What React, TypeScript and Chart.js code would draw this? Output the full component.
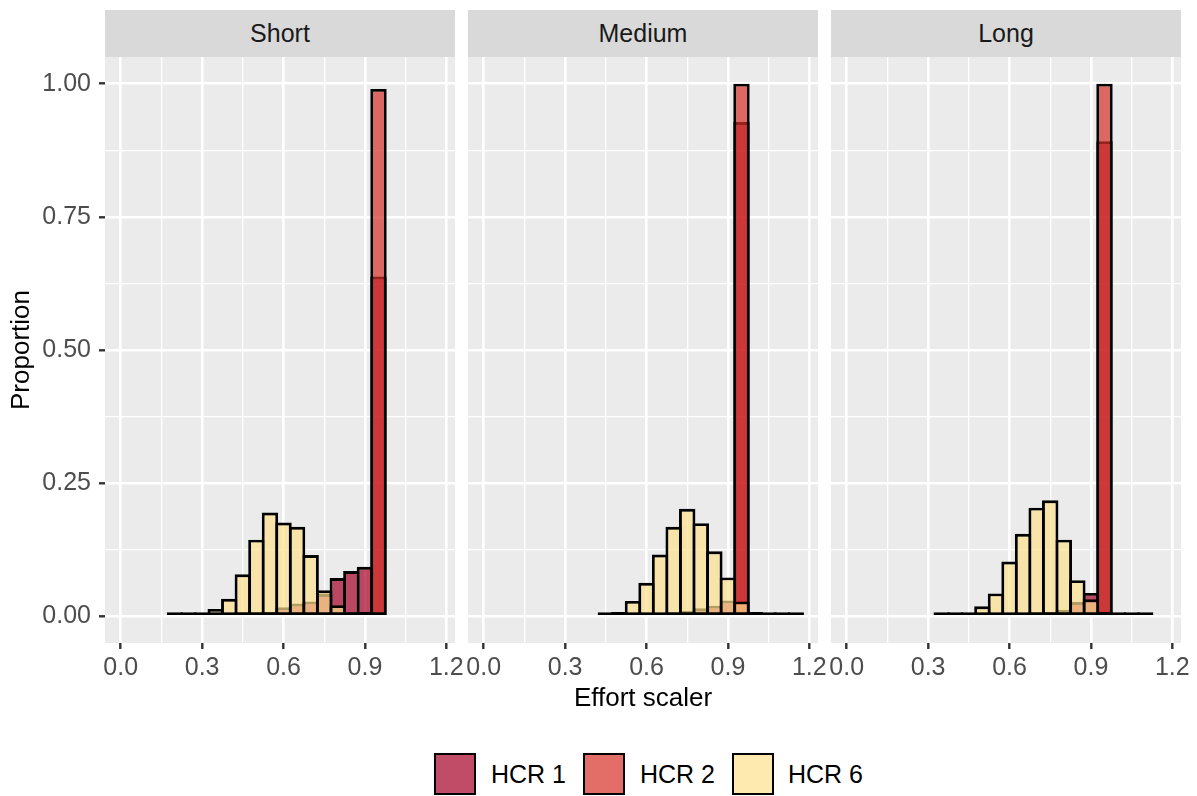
import React, { useEffect, useRef } from 'react';
import { Chart, registerables } from 'chart.js';

Chart.register(...registerables);

// ---------------- data ----------------
const panelNames = ['Short', 'Medium', 'Long'];
const seriesNames = ['HCR 1', 'HCR 2', 'HCR 6'];
const seriesColors = ['rgba(165,0,38,0.7)', 'rgba(215,48,39,0.7)', 'rgba(254,224,139,0.7)'];

// histogram bin centres (bin width 0.05)
const binCenters = [0.2, 0.25, 0.3, 0.35, 0.4, 0.45, 0.5, 0.55, 0.6, 0.65, 0.7, 0.75, 0.8, 0.85, 0.9, 0.95, 1.0, 1.05, 1.1, 1.15];

// Short
const shortHCR1 = [null, null, null, null, null, 0.004, 0.005, 0.008, 0.017, 0.024, 0.028, 0.042, 0.072, 0.085, 0.093, 0.638, null, null, null, null];
const shortHCR2 = [null, null, null, null, null, null, null, null, null, null, null, null, null, null, 0.008, 0.99, null, null, null, null];
const shortHCR6 = [0.002, 0.002, 0.003, 0.014, 0.033, 0.079, 0.144, 0.195, 0.176, 0.168, 0.115, 0.049, 0.021, 0.004, 0.003, null, null, null, null, null];

// Medium
const mediumHCR1 = [null, null, null, null, null, null, null, null, null, null, 0.005, 0.01, 0.015, 0.02, 0.03, 0.928, null, null, null, null];
const mediumHCR2 = [null, null, null, null, null, null, null, null, null, null, null, null, null, null, null, 1.0, null, null, null, null];
const mediumHCR6 = [null, null, null, null, null, 0.003, 0.008, 0.029, 0.063, 0.116, 0.168, 0.202, 0.175, 0.122, 0.073, 0.028, 0.008, 0.003, 0.003, 0.002];

// Long
const longHCR1 = [null, null, null, null, null, null, null, null, null, null, 0.006, 0.008, 0.0125, 0.027, 0.044, 0.892, null, null, null, null];
const longHCR2 = [null, null, null, null, null, null, null, null, null, null, null, null, null, null, null, 1.0, null, null, null, null];
const longHCR6 = [null, null, null, 0.002, 0.002, 0.006, 0.019, 0.043, 0.103, 0.155, 0.204, 0.218, 0.144, 0.068, 0.032, 0.006, 0.003, 0.002, 0.002, null];

const panelSeries = [
  [shortHCR1, shortHCR2, shortHCR6],
  [mediumHCR1, mediumHCR2, mediumHCR6],
  [longHCR1, longHCR2, longHCR6],
];

const xMajorTicks = [0, 0.3, 0.6, 0.9, 1.2];
const xTickLabels = ['0.0', '0.3', '0.6', '0.9', '1.2'];
const yMajorTicks = [0, 0.25, 0.5, 0.75, 1.0];
const yTickLabels = ['0.00', '0.25', '0.50', '0.75', '1.00'];

const xTitle = 'Effort scaler';
const yTitle = 'Proportion';

// ---------------- layout ----------------
const FONT = '"Liberation Sans", Arial, Helvetica, sans-serif';
const PANEL_TOP = 57;
const PANEL_H = 586;
const PANEL_W = 350;
const PANEL_LEFTS = [105, 468, 831];
const Y_AXIS_W = 105;
const X_AXIS_H = 50;
const SIDE_PAD = 14;
const RIGHT_PAD = 22;

function withMinors(majors: number[]): number[] {
  const out: number[] = [];
  for (let i = 0; i < majors.length; i++) {
    out.push(majors[i]);
    if (i < majors.length - 1) out.push((majors[i] + majors[i + 1]) / 2);
  }
  return out;
}

function isMajor(v: number, majors: number[]) {
  return majors.some((m) => Math.abs(m - v) < 1e-9);
}

function Panel({ index }: { index: number }) {
  const ref = useRef<HTMLCanvasElement | null>(null);
  const showY = index === 0;
  const leftPad = showY ? 0 : SIDE_PAD;
  const yW = showY ? Y_AXIS_W : 0;
  const width = leftPad + yW + PANEL_W + RIGHT_PAD;
  const height = PANEL_H + X_AXIS_H;
  const left = PANEL_LEFTS[index] - yW - leftPad;

  useEffect(() => {
    if (!ref.current) return;
    const series = panelSeries[index];
    const orders = [3, 2, 1];
    const datasets = series.map((vals, s) => ({
      label: seriesNames[s],
      data: binCenters
        .map((x, i) => (vals[i] == null ? null : { x, y: vals[i] as number }))
        .filter((d) => d !== null) as { x: number; y: number }[],
      backgroundColor: seriesColors[s],
      borderColor: '#000000',
      borderWidth: 2.9,
      borderSkipped: false as const,
      barPercentage: 1.21,
      categoryPercentage: 1,
      grouped: false,
      order: orders[s],
      inflateAmount: 0,
      minBarLength: 4,
    }));

    const xTicks = withMinors(xMajorTicks);
    const yTicks = withMinors(yMajorTicks);

    const chart = new Chart(ref.current, {
      type: 'bar',
      data: { datasets: datasets as any },
      options: {
        animation: false,
        responsive: false,
        maintainAspectRatio: false,
        devicePixelRatio: 1,
        layout: { padding: { left: leftPad, right: RIGHT_PAD, top: 0, bottom: 0 } },
        plugins: {
          legend: { display: false },
          tooltip: { enabled: false },
        },
        scales: {
          x: {
            type: 'linear',
            min: -0.058,
            max: 1.232,
            offset: false,
            border: { display: false },
            afterBuildTicks: (scale: any) => {
              scale.ticks = xTicks.map((v) => ({ value: v }));
            },
            afterFit: (scale: any) => {
              scale.height = X_AXIS_H;
              scale.paddingLeft = 0;
              scale.paddingRight = 0;
              scale.paddingTop = 0;
              scale.paddingBottom = 0;
            },
            grid: {
              offset: false,
              color: '#FFFFFF',
              lineWidth: (ctx: any) => (isMajor(ctx.tick?.value, xMajorTicks) ? 2.6 : 1.3),
              tickColor: (ctx: any) => (isMajor(ctx.tick?.value, xMajorTicks) ? '#333333' : 'rgba(0,0,0,0)'),
              tickWidth: 2.4,
              tickLength: 6,
            },
            ticks: {
              autoSkip: false,
              maxRotation: 0,
              minRotation: 0,
              padding: 4,
              color: '#4D4D4D',
              font: { family: FONT, size: 25 },
              callback: (v: any) => {
                const i = xMajorTicks.findIndex((m) => Math.abs(m - Number(v)) < 1e-9);
                return i >= 0 ? xTickLabels[i] : '';
              },
            },
          },
          y: {
            type: 'linear',
            min: -0.05,
            max: 1.05,
            border: { display: false },
            afterBuildTicks: (scale: any) => {
              scale.ticks = yTicks.map((v) => ({ value: v }));
            },
            afterFit: (scale: any) => {
              scale.width = yW;
              scale.paddingLeft = 0;
              scale.paddingRight = 0;
              scale.paddingTop = 0;
              scale.paddingBottom = 0;
            },
            grid: {
              color: '#FFFFFF',
              lineWidth: (ctx: any) => (isMajor(ctx.tick?.value, yMajorTicks) ? 2.6 : 1.3),
              tickColor: (ctx: any) => (isMajor(ctx.tick?.value, yMajorTicks) ? '#333333' : 'rgba(0,0,0,0)'),
              tickWidth: 2.4,
              tickLength: 6,
              drawTicks: showY,
            },
            ticks: {
              display: showY,
              autoSkip: false,
              padding: 8,
              color: '#4D4D4D',
              font: { family: FONT, size: 25 },
              callback: (v: any) => {
                const i = yMajorTicks.findIndex((m) => Math.abs(m - Number(v)) < 1e-9);
                return i >= 0 ? yTickLabels[i] : '';
              },
            },
            title: {
              display: showY,
              text: yTitle,
              color: '#000000',
              font: { family: FONT, size: 26 },
              padding: { top: 6, bottom: 0 },
            },
          },
        },
      },
      plugins: [
        {
          id: 'panelBackground',
          beforeDraw(c: any) {
            const { ctx, chartArea } = c;
            ctx.save();
            ctx.fillStyle = '#EBEBEB';
            ctx.fillRect(chartArea.left, chartArea.top, chartArea.width, chartArea.height);
            ctx.restore();
          },
        },
      ],
    });
    return () => chart.destroy();
  }, [index]);

  return (
    <canvas
      ref={ref}
      width={width}
      height={height}
      style={{ position: 'absolute', left, top: PANEL_TOP, width, height }}
    />
  );
}

const legendKeyLefts = [434, 583, 732];
const legendTextLefts = [491, 640, 788];

export default function App() {
  return (
    <div
      style={{
        position: 'absolute',
        left: 0,
        top: 0,
        width: 1197,
        height: 796,
        background: '#FFFFFF',
        fontFamily: FONT,
        overflow: 'hidden',
      }}
    >
      {panelNames.map((name, i) => (
        <div
          key={'strip' + i}
          style={{
            position: 'absolute',
            left: PANEL_LEFTS[i],
            top: 10,
            width: PANEL_W,
            height: PANEL_TOP - 10,
            background: '#D9D9D9',
            color: '#1A1A1A',
            fontSize: 25,
            lineHeight: PANEL_TOP - 10 + 'px',
            textAlign: 'center',
          }}
        >
          {name}
        </div>
      ))}
      {panelNames.map((_, i) => (
        <Panel key={'panel' + i} index={i} />
      ))}
      <div
        style={{
          position: 'absolute',
          left: PANEL_LEFTS[0],
          width: PANEL_LEFTS[2] + PANEL_W - PANEL_LEFTS[0],
          top: 682,
          height: 30,
          lineHeight: '30px',
          fontSize: 26,
          textAlign: 'center',
          color: '#000000',
        }}
      >
        {xTitle}
      </div>
      {seriesNames.map((name, s) => (
        <React.Fragment key={'leg' + s}>
          <div
            style={{
              position: 'absolute',
              left: legendKeyLefts[s],
              top: 753,
              width: 42,
              height: 42,
              boxSizing: 'border-box',
              border: '2.6px solid #000000',
              background: seriesColors[s],
            }}
          />
          <div
            style={{
              position: 'absolute',
              left: legendTextLefts[s],
              top: 759,
              height: 30,
              lineHeight: '30px',
              fontSize: 25,
              color: '#000000',
              whiteSpace: 'nowrap',
            }}
          >
            {name}
          </div>
        </React.Fragment>
      ))}
    </div>
  );
}
